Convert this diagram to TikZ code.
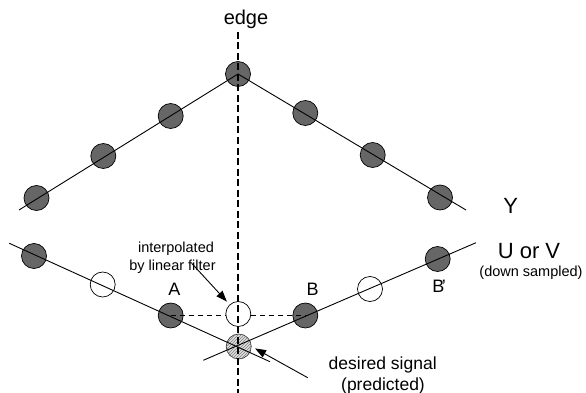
\documentclass[tikz,border=0pt]{standalone}
\usepackage{fontspec}
\setmainfont{Liberation Sans}
\usetikzlibrary{arrows.meta,patterns}
\definecolor{dot}{HTML}{666666}
\begin{document}
\begin{tikzpicture}[x=1pt,y=-1pt,
  samp/.style={circle,draw=black,line width=0.7pt,minimum size=25pt,inner sep=0pt,fill=dot},
  hole/.style={circle,draw=black,line width=0.7pt,minimum size=25pt,inner sep=0pt,fill=white},
  hatch/.style={circle,draw=black!80,line width=0.7pt,minimum size=25pt,inner sep=0pt,fill=gray!25,
    postaction={pattern=north east lines,pattern color=gray}},
  wire/.style={line width=0.9pt},
  edgeline/.style={line width=1.8pt,dash pattern=on 7pt off 3.5pt},
  hline/.style={line width=1pt,dash pattern=on 5pt off 4pt},
  arr/.style={line width=0.9pt,-{Triangle[length=11pt,width=8pt]}},
  lbl/.style={inner sep=0pt}]
\useasboundingbox (0,0) rectangle (586,393);
% upper (Y) samples
\node[samp] (y1) at (36.5,198) {};
\node[samp] (y2) at (103.3,156) {};
\node[samp] (y3) at (170.7,116) {};
\node[samp] (y4) at (238,74) {};
\node[samp] (y5) at (305.3,113) {};
\node[samp] (y6) at (372.7,155) {};
\node[samp] (y7) at (440,197.5) {};
\coordinate (yl) at (19,210);
\coordinate (yr) at (466,210);
\draw[wire] (yl) -- (y4.center) -- (yr);
% lower (U/V) samples
\node[samp] (c1) at (34,256) {};
\node[hole] (c2) at (102.7,284.5) {};
\node[samp] (A) at (170.7,315.5) {};
\node[hole] (interp) at (238.3,314) {};
\node[hatch] (pred) at (238.7,346.5) {};
\node[samp] (B) at (305.3,315.5) {};
\node[hole] (c3) at (370,289) {};
\node[samp] (Bp) at (437.7,259) {};
\coordinate (ll1) at (9.3,243.3);
\coordinate (ll2) at (270,361.7);
\coordinate (rl1) at (203.3,360.3);
\coordinate (rl2) at (476,242.7);
\draw[wire] (ll1) -- (ll2);
\draw[wire] (rl1) -- (rl2);
\draw[hline] (A.center) -- (A.center -| interp.west);
\draw[hline] (B.center -| interp.east) -- (B.center);
% edge
\coordinate (et) at (238,32);
\coordinate (eb) at (238,393);
\draw[edgeline] (et) -- (eb);
% labels
\node[lbl,font=\fontsize{20}{22}\selectfont] (edge) at (246,19) {edge};
\node[lbl,font=\fontsize{22}{24}\selectfont] (ylab) at (510.7,206) {Y};
\node[lbl,font=\fontsize{22}{24}\selectfont] (uv) at (529,251) {U or V};
\node[lbl,font=\fontsize{14.5}{16}\selectfont] (ds) at (531,272.7) {(down sampled)};
\node[lbl,font=\fontsize{18}{20}\selectfont] (la) at (174.3,289) {A};
\node[lbl,font=\fontsize{18}{20}\selectfont] (lb) at (312.7,289) {B};
\node[lbl,font=\fontsize{18}{20}\selectfont] (lbp) at (438.3,286) {B\rlap{\kern-2.5pt'}};
\node[lbl,font=\fontsize{14.5}{16}\selectfont] (t1) at (176,248.3) {interpolated};
\node[lbl,font=\fontsize{14.5}{16}\selectfont] (t2) at (172.5,266.7) {by linear filter};
\node[lbl,font=\fontsize{17.5}{19}\selectfont] (t3) at (382.7,365.3) {desired signal};
\node[lbl,font=\fontsize{17.5}{19}\selectfont] (t4) at (383,386) {(predicted)};
% arrows
\coordinate (a1) at (191.7,263.3);
\coordinate (a2) at (307.7,377.7);
\draw[arr,shorten >=4pt] (a1) -- (interp);
\draw[arr,shorten >=4pt] (a2) -- (pred.east);
\end{tikzpicture}
\end{document}
